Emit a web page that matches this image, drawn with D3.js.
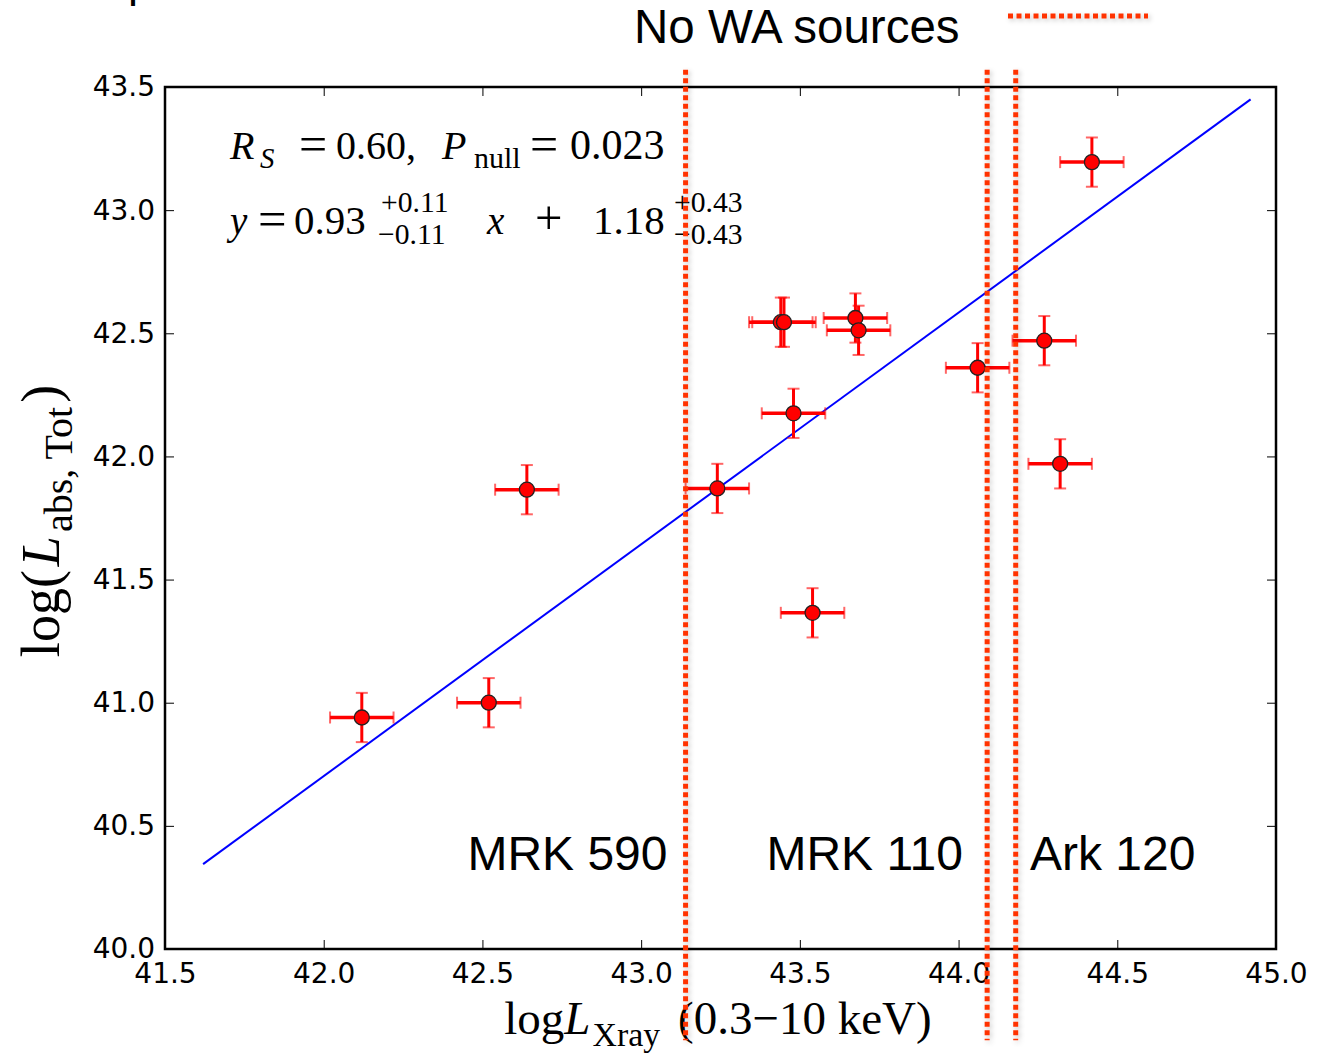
<!DOCTYPE html>
<html>
  <head>
    <meta charset="utf-8">
    <title>Absorbed luminosity vs X-ray luminosity</title>
    <script src="https://d3js.org/d3.v7.min.js"></script>
    <style>
      body { margin: 0; background: #fff; }
    </style>
  </head>
  <body>
    <script>
      // ---- data ----
      const xTicks = [41.5, 42.0, 42.5, 43.0, 43.5, 44.0, 44.5, 45.0];
      const yTicks = [40.0, 40.5, 41.0, 41.5, 42.0, 42.5, 43.0, 43.5];

      const logLx   = [42.12, 42.52, 42.64, 43.24, 43.54, 43.48, 43.44, 43.45, 43.675, 43.685, 44.06, 44.27, 44.32, 44.42];
      const logLabs = [40.94, 41.00, 41.865, 41.87, 41.365, 42.175, 42.545, 42.545, 42.562, 42.512, 42.36, 42.47, 41.97, 43.195];
      const xErr    = [0.10, 0.10, 0.10, 0.10, 0.10, 0.10, 0.10, 0.10, 0.10, 0.10, 0.10, 0.10, 0.10, 0.10];
      const yErr    = [0.10, 0.10, 0.10, 0.10, 0.10, 0.10, 0.10, 0.10, 0.10, 0.10, 0.10, 0.10, 0.10, 0.10];

      // best fit line drawn on the plot
      const fitSlope = 0.941;
      const fitIntercept = 1.18;
      const fitRange = [41.62, 44.92];

      // sources without warm absorbers (vertical dotted lines)
      const waSources = ["MRK 590", "MRK 110", "Ark 120"];
      const waLogLx   = [43.14, 44.09, 44.18];
      const waLabelX  = [43.083, 44.014, 44.225];
      const waLabelAnchor = ["end", "end", "start"];
      const waLabelY  = 40.32;

      // ---- layout ----
      const width = 1317, height = 1056;
      const plot = {left: 165, right: 1276, top: 87, bottom: 949};
      const red = "#ff0000";
      const dotted = "#ff3300";
      const serif = "'Liberation Serif', 'DejaVu Serif', serif";
      const sans = "'DejaVu Sans', sans-serif";
      const arial = "'Liberation Sans', Arial, sans-serif";

      const svg = d3.select("body").append("svg")
        .attr("width", width)
        .attr("height", height);

      const defs = svg.append("defs");
      defs.append("filter").attr("id", "shadow")
        .attr("filterUnits", "userSpaceOnUse")
        .attr("x", 0).attr("y", 0).attr("width", width).attr("height", height)
        .append("feDropShadow")
          .attr("dx", 2).attr("dy", 2).attr("stdDeviation", 2.5)
          .attr("flood-color", "#000").attr("flood-opacity", 0.22);

      const x = d3.scaleLinear().domain([41.5, 45.0]).range([plot.left, plot.right]);
      const y = d3.scaleLinear().domain([40.0, 43.5]).range([plot.bottom, plot.top]);

      // ---- axes (matplotlib style, ticks inside on all sides) ----
      const tickLen = 9;
      const fmt = d3.format(".1f");

      svg.append("g")
        .attr("transform", "translate(0," + plot.bottom + ")")
        .call(d3.axisBottom(x).tickValues(xTicks).tickFormat(fmt).tickSizeInner(-tickLen).tickSizeOuter(0).tickPadding(14))
        .call(g => g.select(".domain").remove())
        .call(g => g.selectAll("line").attr("stroke", "#000").attr("stroke-width", 1))
        .call(g => g.selectAll("text").attr("font-family", sans).attr("font-size", 28).attr("fill", "#000"));

      svg.append("g")
        .attr("transform", "translate(" + plot.left + ",0)")
        .call(d3.axisLeft(y).tickValues(yTicks).tickFormat(fmt).tickSizeInner(-tickLen).tickSizeOuter(0).tickPadding(10))
        .call(g => g.select(".domain").remove())
        .call(g => g.selectAll("line").attr("stroke", "#000").attr("stroke-width", 1))
        .call(g => g.selectAll("text").attr("font-family", sans).attr("font-size", 28).attr("fill", "#000"));

      svg.append("g")
        .attr("transform", "translate(0," + plot.top + ")")
        .call(d3.axisTop(x).tickValues(xTicks).tickFormat("").tickSizeInner(-tickLen).tickSizeOuter(0))
        .call(g => g.select(".domain").remove())
        .call(g => g.selectAll("line").attr("stroke", "#000"));

      svg.append("g")
        .attr("transform", "translate(" + plot.right + ",0)")
        .call(d3.axisRight(y).tickValues(yTicks).tickFormat("").tickSizeInner(-tickLen).tickSizeOuter(0))
        .call(g => g.select(".domain").remove())
        .call(g => g.selectAll("line").attr("stroke", "#000"));

      svg.append("rect")
        .attr("x", plot.left).attr("y", plot.top)
        .attr("width", plot.right - plot.left).attr("height", plot.bottom - plot.top)
        .attr("fill", "none").attr("stroke", "#000").attr("stroke-width", 2.5);

      // ---- fit line ----
      const line = d3.line()
        .x(d => x(d))
        .y(d => y(fitSlope * d + fitIntercept));

      svg.append("path")
        .attr("d", line(fitRange))
        .attr("fill", "none")
        .attr("stroke", "#0000ff")
        .attr("stroke-width", 2);

      // ---- error bars and points ----
      const pts = logLx.map((d, i) => ({x: d, y: logLabs[i], ex: xErr[i], ey: yErr[i]}));
      const cap = 6;
      const eb = svg.append("g");

      pts.forEach(p => {
        const g = eb.append("g");
        g.append("line")
          .attr("x1", x(p.x - p.ex)).attr("x2", x(p.x + p.ex))
          .attr("y1", y(p.y)).attr("y2", y(p.y))
          .attr("stroke", red).attr("stroke-width", 3.5);
        g.append("line")
          .attr("x1", x(p.x)).attr("x2", x(p.x))
          .attr("y1", y(p.y - p.ey)).attr("y2", y(p.y + p.ey))
          .attr("stroke", red).attr("stroke-width", 3);
        [p.x - p.ex, p.x + p.ex].forEach(v => {
          g.append("line")
            .attr("x1", x(v)).attr("x2", x(v))
            .attr("y1", y(p.y) - cap).attr("y2", y(p.y) + cap)
            .attr("stroke", red).attr("stroke-opacity", 0.6).attr("stroke-width", 2);
        });
        [p.y - p.ey, p.y + p.ey].forEach(v => {
          g.append("line")
            .attr("x1", x(p.x) - cap).attr("x2", x(p.x) + cap)
            .attr("y1", y(v)).attr("y2", y(v))
            .attr("stroke", red).attr("stroke-opacity", 0.6).attr("stroke-width", 2);
        });
      });

      svg.append("g").selectAll("circle")
        .data(pts)
        .join("circle")
          .attr("cx", d => x(d.x))
          .attr("cy", d => y(d.y))
          .attr("r", 7.5)
          .attr("fill", red)
          .attr("stroke", "#222")
          .attr("stroke-width", 1.3);

      // ---- helper to chain text pieces (for math-like labels) ----
      // pieces: {t, italic, scale, dy, at} ; {gap}
      function mathText(parent, x0, y0, pieces, base) {
        let cx = x0;
        pieces.forEach(pc => {
          if (pc.gap) { cx += pc.gap; return; }
          if (pc.at !== undefined) cx = pc.at;
          const t = parent.append("text")
            .attr("x", cx).attr("y", y0 + (pc.dy || 0))
            .attr("font-family", serif)
            .attr("font-size", base * (pc.scale || 1))
            .attr("font-style", pc.italic ? "italic" : "normal")
            .text(pc.t);
          cx += t.node().getComputedTextLength();
        });
        return cx - x0;
      }

      // ---- annotations (stats of the fit) ----
      const ann = svg.append("g");
      mathText(ann, 0, 159, [
        {t: "R", italic: true, at: 230},
        {t: "S", italic: true, scale: 0.72, dy: 9, at: 260},
        {t: "=", at: 299, scale: 1.25, dy: 2},
        {t: "0.60,", at: 336},
        {t: "P", italic: true, at: 442},
        {t: "null", scale: 0.75, dy: 9, at: 474},
        {t: "=", at: 530, scale: 1.25, dy: 2},
        {t: "0.023", at: 570, scale: 1.05}
      ], 40);

      mathText(ann, 0, 234, [
        {t: "y", italic: true, at: 230},
        {t: "=", at: 258, scale: 1.3, dy: 2},
        {t: "0.93", at: 294, scale: 1.05},
        {t: "+0.11", scale: 0.76, dy: -22, at: 381},
        {t: "\u22120.11", scale: 0.76, dy: 10, at: 378},
        {t: "x", italic: true, at: 487},
        {t: "+", at: 535, scale: 1.25},
        {t: "1.18", at: 593, scale: 1.05},
        {t: "+0.43", scale: 0.76, dy: -22, at: 674},
        {t: "\u22120.43", scale: 0.76, dy: 10, at: 674}
      ], 39);

      // axis labels
      const xl = svg.append("g");
      const xlw = mathText(xl, 0, 0, [
        {t: "log"},
        {t: "L", italic: true},
        {gap: 2},
        {t: "Xray", scale: 0.72, dy: 12},
        {gap: 18},
        {t: "(0.3\u221210 keV)"}
      ], 47);
      xl.attr("transform", "translate(" + (718 - xlw / 2) + ",1034)");

      const yl = svg.append("g");
      const ylw = mathText(yl, 0, 0, [
        {t: "log("},
        {gap: 4},
        {t: "L", italic: true},
        {gap: 4},
        {t: "abs, Tot", scale: 0.74, dy: 13},
        {gap: 4},
        {t: ")"}
      ], 54);
      yl.attr("transform", "translate(59," + (521 + ylw / 2) + ") rotate(-90)");

      // ---- vertical dotted lines for sources without warm absorbers ----
      const wa = svg.append("g").attr("filter", "url(#shadow)");
      wa.selectAll("line")
        .data(waLogLx)
        .join("line")
          .attr("x1", d => x(d)).attr("x2", d => x(d))
          .attr("y1", y(43.57)).attr("y2", y(39.63))
          .attr("stroke", dotted)
          .attr("stroke-width", 5)
          .attr("stroke-dasharray", "5,3.5");

      svg.append("g").selectAll("text")
        .data(waSources)
        .join("text")
          .attr("x", (d, i) => x(waLabelX[i]))
          .attr("y", y(waLabelY))
          .attr("text-anchor", (d, i) => waLabelAnchor[i])
          .attr("font-family", arial)
          .attr("font-size", 48)
          .text(d => d);

      // ---- legend at top ----
      svg.append("text")
        .attr("x", 634).attr("y", 43)
        .attr("font-family", arial)
        .attr("font-size", 47.5)
        .text("No WA sources");

      svg.append("line")
        .attr("x1", 1008).attr("x2", 1148)
        .attr("y1", 16).attr("y2", 16)
        .attr("stroke", dotted)
        .attr("stroke-width", 5)
        .attr("stroke-dasharray", "5,3.5")
        .attr("filter", "url(#shadow)");

      // clipped remnant of a title above the figure
      svg.append("text")
        .attr("x", 128).attr("y", -3)
        .attr("font-family", arial)
        .attr("font-size", 45)
        .text("p");
    </script>
  </body>
</html>
